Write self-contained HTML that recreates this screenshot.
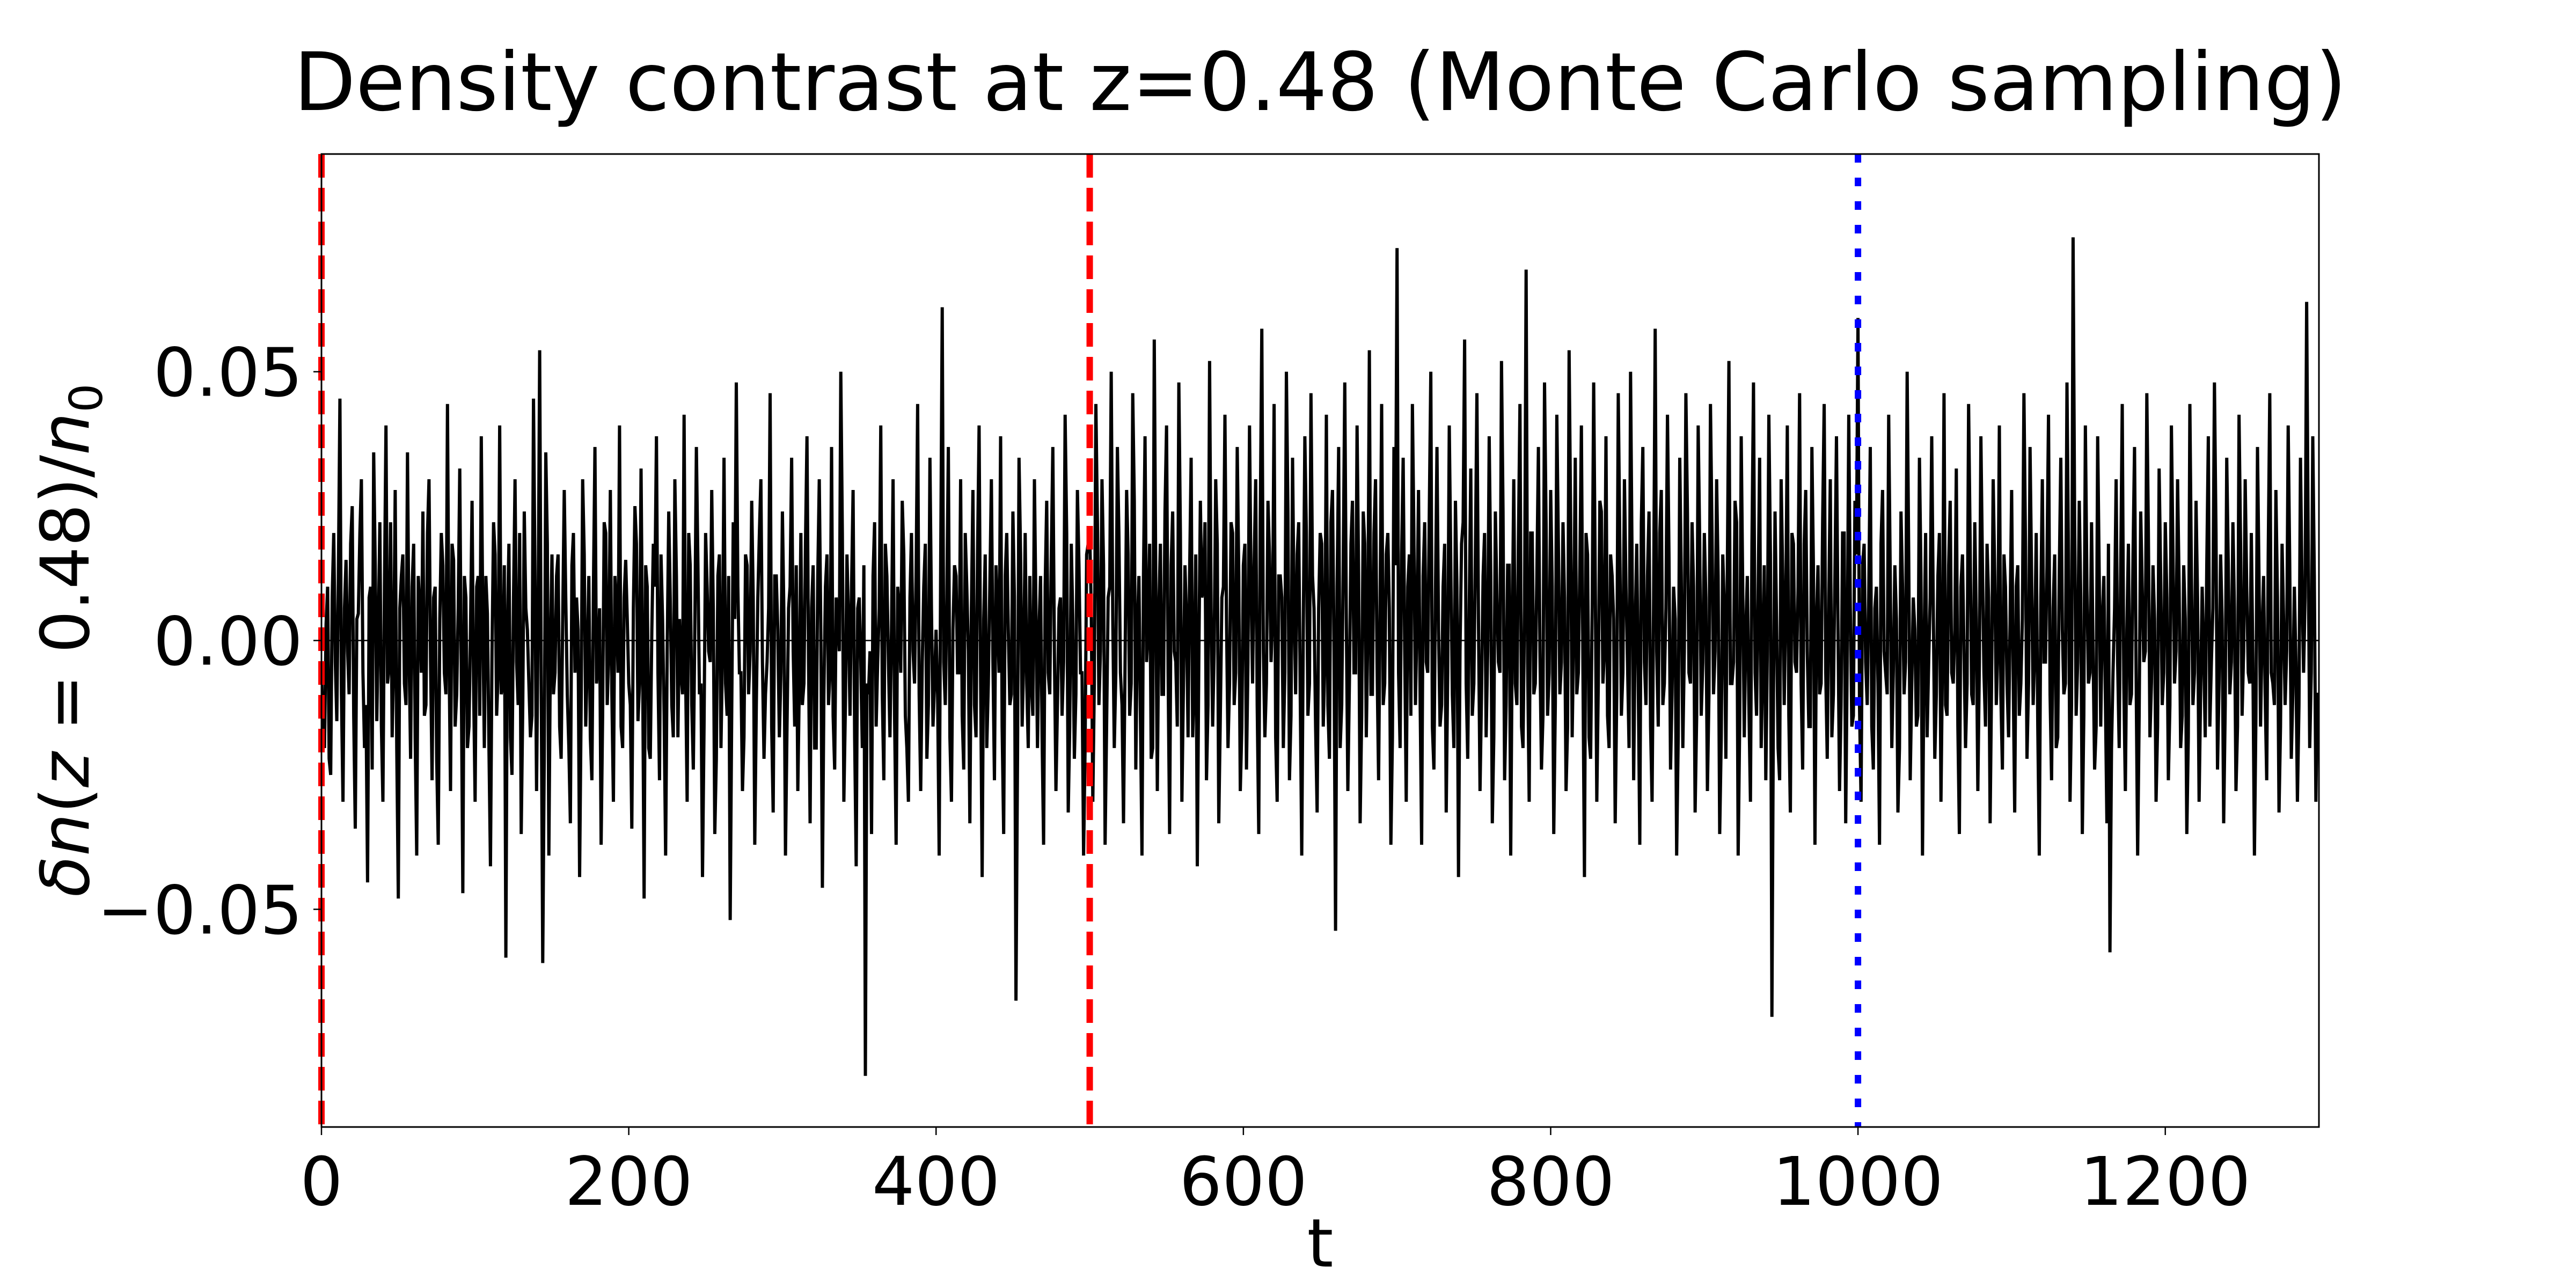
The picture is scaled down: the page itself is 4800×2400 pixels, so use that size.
<!DOCTYPE html>
<html><head><meta charset="utf-8"><style>
html,body{margin:0;padding:0;background:#fff;}
svg{display:block;font-family:"DejaVu Sans","Liberation Sans",sans-serif;}
</style></head><body>
<svg id="chart" width="4800" height="2400" viewBox="0 0 4800 2400" xmlns="http://www.w3.org/2000/svg">
<rect x="0" y="0" width="4800" height="2400" fill="#fff"/>
<text x="2460" y="205" font-size="150" text-anchor="middle">Density contrast at z=0.48 (Monte Carlo sampling)</text>
<g id="plot"></g>
<text x="2460" y="2360" font-size="125" text-anchor="middle">t</text>
<text transform="translate(165,1193) rotate(-90)" font-size="125" text-anchor="middle"><tspan font-style="italic">δn</tspan>(<tspan font-style="italic">z</tspan> = 0.48)/<tspan font-style="italic">n</tspan><tspan font-size="85" dy="25">0</tspan></text>
</svg>
<script>
const xTicks = [0, 200, 400, 600, 800, 1000, 1200];
const yTicks = [0.05, 0.00, -0.05];
const yTickLabels = ["0.05", "0.00", "\u22120.05"];
const redLines = [0, 500];
const blueLines = [1000];
// values (x0.001) at even t = 0,2,4,...,1300
const valuesEvenMilli = [
-5,-20,10,-25,20,-15,45,-30,15,-10,25,-35,5,30,-20,-45,10,35,-15,22,-30,40,-5,-18,28,-48,12,-8,35,-22,18,-40,6,24,-12,30,-26,10,-38,20,-6,44,-28,15,-10,32,-47,8,-16,26,
-30,12,38,-20,5,-42,22,-14,40,-8,-59,18,-25,30,-12,-36,24,2,-18,45,-28,54,-60,35,-40,16,-6,16,-22,28,-10,-34,20,8,-44,30,-16,12,-26,36,-4,-38,22,-12,28,-30,6,40,-20,15,
-8,-35,25,-15,32,-48,10,-22,18,38,-26,4,-40,24,-12,30,-18,-6,42,-30,14,-24,36,-10,-44,20,-2,28,-36,12,-20,34,-14,-52,22,48,-6,-28,16,-10,26,-38,8,30,-22,-4,46,-32,12,-18,
24,-40,6,34,-16,-28,20,-8,38,-34,14,-20,30,-46,10,-12,36,-24,4,50,-30,16,-14,28,-42,8,-20,-81,-10,-36,22,-4,40,-26,12,-18,30,-38,6,26,-14,-30,20,-8,44,-28,10,-22,34,-16,
2,-40,62,-12,36,-30,14,-6,30,-24,10,-34,28,-18,40,-44,16,-8,30,-26,4,38,-36,20,-12,24,-67,34,-16,20,-20,-8,30,-20,12,-38,26,-10,36,-28,6,-14,42,-32,18,-22,28,-6,-40,16,
20,-30,44,-12,30,-38,8,50,-20,36,-6,-34,28,-14,46,-24,12,-40,38,2,-22,56,-28,18,-10,40,-36,24,-4,48,-30,14,-18,34,-8,-42,26,10,-26,52,-16,30,-34,8,42,-20,22,-12,36,-28,
14,-24,40,-8,30,-36,58,-18,26,-4,44,-30,12,-20,50,-26,34,-10,22,-40,38,-14,46,6,-32,20,-16,42,-22,28,-54,36,-12,48,-28,18,-6,40,-34,24,-18,54,-10,30,-26,44,-8,20,-38,36,
73,-20,34,-30,16,44,-12,28,-38,22,-6,50,-24,36,-16,10,-32,40,-10,26,-44,18,56,-22,32,-8,46,-28,12,-18,38,-34,24,-4,52,-26,14,-40,30,-12,44,-20,69,-30,20,-8,36,-24,48,-14,
28,-36,42,-10,22,-28,54,-18,34,-6,40,-44,16,-22,48,-30,26,-8,38,-20,12,-34,46,-14,30,-4,50,-26,18,-38,36,-12,24,-30,58,-16,28,-8,42,-24,10,-40,34,-20,46,-6,22,-32,40,-14,
20,-28,44,-10,30,-36,16,-22,52,-8,26,-40,38,-18,12,-30,48,-14,34,-4,-26,42,-70,24,-20,30,-12,40,-32,18,-6,46,-24,28,-16,36,-38,14,-8,44,-22,30,-10,38,-28,20,-34,42,-16,26,
60,-30,18,-12,36,-24,10,-38,28,-6,42,-20,14,-32,24,-10,50,-26,8,-16,34,-40,20,-4,38,-22,12,-30,46,-14,26,-8,32,-36,16,-20,44,-10,22,-28,38,-6,18,-34,30,-12,40,-24,10,-18,
28,-32,14,-8,46,-22,36,-12,20,-40,30,-4,42,-26,16,-18,34,-10,48,-30,75,-14,26,-36,40,-8,22,-24,38,-16,12,-34,-58,-6,30,-20,44,-28,18,-10,36,-40,24,-4,46,-18,14,-30,32,-12,
22,-26,40,-8,30,-20,14,-36,44,-12,26,-30,10,-18,38,-4,48,-24,16,-34,34,-10,22,-28,42,-14,30,-6,20,-40,36,-16,12,-26,46,-8,28,-32,18,-12,40,-22,10,-30,34,-6,63,-20,38,-30,-10
];
// values (x0.001) at odd t = 1,3,5,...,1299
const valuesOddMilli = [
-18,3,-22,8,-4,12,-10,6,-2,18,-14,4,20,-6,-12,8,-24,14,2,-16,10,-8,22,-4,-20,6,16,-12,-2,10,-18,12,-6,-14,20,-4,8,-22,4,14,-10,-2,18,-16,6,-6,12,-20,2,-8,
10,-14,4,12,-20,-2,16,-6,-10,14,2,-18,8,-4,20,-12,6,-8,-14,10,4,-6,-22,18,-2,-10,12,-16,4,8,-20,14,-6,2,-12,16,-4,-18,10,-8,6,-14,20,-2,-10,12,-6,-16,8,4,
-12,6,18,-8,-4,14,-20,2,10,-6,16,-14,-2,8,-18,12,4,-10,-6,20,-12,2,14,-8,-16,10,-4,6,-22,16,-2,-8,12,-14,4,10,-6,-18,14,-2,8,-12,20,-4,-10,6,-16,12,2,-6,
4,-16,10,-2,14,-8,-12,18,-4,6,-20,12,2,-10,16,-6,-14,8,-2,20,-12,4,10,-18,6,-4,14,-8,-2,12,-16,6,-10,18,-4,2,-14,10,-6,16,-20,8,-2,12,-10,-4,18,-12,6,-8,
-10,14,-4,8,-18,2,12,-6,-14,20,-2,6,-12,16,-8,4,-20,10,-4,14,-6,-16,12,2,-10,8,-22,16,-4,-8,12,-14,6,2,-18,10,-6,16,-2,-12,8,-4,20,-16,4,-10,14,-6,-20,18,
6,-8,22,-2,14,-16,10,4,-6,20,-12,-4,16,-8,26,2,-14,12,-4,18,-20,10,6,-10,24,-6,14,-2,-16,20,-8,4,12,-18,16,-4,8,22,-12,6,-2,18,-14,10,4,-8,20,-6,12,-16,
18,-4,10,14,-12,22,-2,-8,16,4,-18,12,8,-6,24,-14,6,16,-10,2,20,-8,12,-16,6,18,-4,-12,22,-2,10,-20,14,4,-8,26,-6,12,-14,18,2,-10,20,-4,8,-12,16,6,-18,14,
-6,16,-2,10,-14,20,4,-10,12,-4,24,-16,8,2,-12,18,-6,14,-20,10,-2,22,-8,6,-14,16,4,-10,20,-2,12,-18,8,-6,24,-12,14,2,-8,18,-16,6,-4,20,-10,12,-2,-14,22,-6,
10,-12,18,-4,8,-16,22,2,-10,14,-6,20,-18,6,12,-8,24,-2,-14,16,4,-10,18,-6,10,-20,14,2,-8,22,-4,12,-16,8,-2,20,-12,6,16,-10,4,-18,12,-2,24,-8,10,-14,18,-4,
8,-10,20,-2,12,-18,6,14,-8,-4,22,-16,10,2,-12,18,-6,8,-20,14,-2,16,-10,4,-26,12,6,-14,20,-4,10,-8,18,-2,-16,14,4,-10,22,-6,8,-18,12,2,-12,20,-4,6,-14,16,
-12,14,-4,8,-16,6,-8,18,-2,-10,12,-6,4,-20,10,-4,16,-8,2,-14,12,-2,-18,8,6,-10,20,-4,-12,14,-6,2,-16,10,-2,-8,18,-12,4,-4,14,-16,8,-6,12,-2,-10,16,-8,4,
-6,10,-14,4,18,-8,12,-2,-16,8,-4,14,-10,6,-20,12,2,-8,16,-12,22,-4,8,-14,10,-6,-2,-16,12,4,-10,18,-20,6,-4,14,-8,2,-12,16,-6,-14,10,-2,20,-8,4,-16,12,-6,
8,-12,16,-2,10,-14,4,-18,12,-6,8,-10,-2,14,-16,6,20,-8,4,-12,14,-4,6,-16,18,-2,10,-8,-4,-14,12,2,-10,16,-6,-12,8,-16,4,-2,14,-10,-4,-12,10,8,18,-6,12,-10
];
const xMin = 0, xMax = 1300, yMin = -0.0905, yMax = 0.0905;
const L = 599, R = 4321, T = 287, B = 2100;
const NS = "http://www.w3.org/2000/svg";
function sx(t){ return L + (t - xMin) / (xMax - xMin) * (R - L); }
function sy(v){ return B - (v - yMin) / (yMax - yMin) * (B - T); }
const svg = document.getElementById('chart');
const plot = document.getElementById('plot');
function mk(tag, attrs, parent){
  const e = document.createElementNS(NS, tag);
  for (const k in attrs) e.setAttribute(k, attrs[k]);
  (parent || plot).appendChild(e);
  return e;
}
const defs = mk('defs', {}, svg);
const cp = mk('clipPath', {id:'clip'}, defs);
mk('rect', {x:L, y:T, width:R-L, height:B-T}, cp);
const zl = mk('line', {x1:L, x2:R, y1:sy(0), y2:sy(0), stroke:'#000', 'stroke-width':2.5});


const series = [];
for (let i = 0; i < valuesEvenMilli.length; i++) {
  series.push([2 * i, valuesEvenMilli[i]]);
  if (i < valuesOddMilli.length) series.push([2 * i + 1, valuesOddMilli[i]]);
}
let d = '';
series.forEach((p, i) => {
  d += (i ? 'L' : 'M') + sx(p[0]).toFixed(1) + ',' + sy(p[1] / 1000).toFixed(1);
});
const path = mk('path', {d:d, fill:'none', stroke:'#000', 'stroke-width':6, 'stroke-linejoin':'miter', 'clip-path':'url(#clip)'});


redLines.forEach(t => {
  const ln = mk('line', {x1:sx(t), x2:sx(t), y1:T, y2:B, stroke:'#ff0000', 'stroke-width':12, 'stroke-dasharray':'44,19'});
  
  
});
blueLines.forEach(t => {
  const ln = mk('line', {x1:sx(t), x2:sx(t), y1:T, y2:B, stroke:'#0000ff', 'stroke-width':12, 'stroke-dasharray':'16,28'});
  
  
});
const fr = mk('rect', {x:L, y:T, width:R-L, height:B-T, fill:'none', stroke:'#000', 'stroke-width':3});


xTicks.forEach(t => {
  const x = sx(t);
  const tk = mk('line', {x1:x, x2:x, y1:B, y2:B+15, stroke:'#000', 'stroke-width':2.5});
  
  
  const lb = mk('text', {x:x, y:B+145, 'font-size':125, 'text-anchor':'middle'});
  lb.textContent = String(t);
  
  
});
yTicks.forEach((v, i) => {
  const y = sy(v);
  const tk = mk('line', {x1:L-15, x2:L, y1:y, y2:y, stroke:'#000', 'stroke-width':2.5});
  
  
  const lb = mk('text', {x:L-35, y:y+45, 'font-size':125, 'text-anchor':'end'});
  lb.textContent = yTickLabels[i];
  
  
});
</script>
</body></html>
